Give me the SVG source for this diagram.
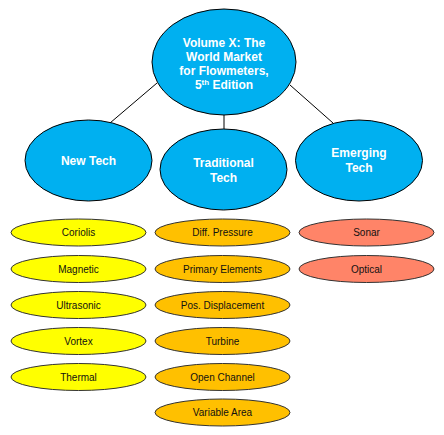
<svg xmlns="http://www.w3.org/2000/svg" width="444" height="435" viewBox="0 0 444 435">
<style>
.blue{fill:#00B0F0;stroke:#000;stroke-width:1}
.y{fill:#FFFF00;stroke:#333;stroke-width:1}
.o{fill:#FFC000;stroke:#333;stroke-width:1}
.s{fill:#FF8468;stroke:#333;stroke-width:1}
.bt{font-family:"Liberation Sans",Arial,sans-serif;font-weight:bold;font-size:12px;fill:#fff;text-anchor:middle}
.st{font-family:"Liberation Sans",Arial,sans-serif;font-size:10px;fill:#111;text-anchor:middle}
.c{stroke:#000;stroke-width:1;fill:none}
</style>
<rect width="444" height="435" fill="#fff"/>
<g id="connectors">
<line class="c" x1="157" y1="83" x2="110" y2="123"/>
<line class="c" x1="224" y1="115" x2="224" y2="129"/>
<line class="c" x1="290" y1="85" x2="333" y2="123"/>
</g>
<g id="root">
<ellipse class="blue" cx="224" cy="62" rx="72" ry="53"/>
<text class="bt" x="224" y="47">Volume X: The</text>
<text class="bt" x="224" y="61">World Market</text>
<text class="bt" x="224" y="75">for Flowmeters,</text>
<text class="bt" x="224" y="89">5<tspan font-size="8" dy="-4">th</tspan><tspan dy="4"> Edition</tspan></text>
</g>
<g id="newtech">
<ellipse class="blue" cx="88.5" cy="160.5" rx="63.5" ry="40.5"/>
<text class="bt" x="88.5" y="164.5">New Tech</text>
</g>
<g id="traditional">
<ellipse class="blue" cx="223.5" cy="169.5" rx="63.5" ry="40.5"/>
<text class="bt" x="223.5" y="167">Traditional</text>
<text class="bt" x="223.5" y="182">Tech</text>
</g>
<g id="emerging">
<ellipse class="blue" cx="359" cy="160.5" rx="63.5" ry="40.5"/>
<text class="bt" x="359" y="157">Emerging</text>
<text class="bt" x="359" y="172">Tech</text>
</g>
<g id="coriolis"><ellipse class="y" cx="78.5" cy="232.5" rx="67.5" ry="13.5"/><text class="st" x="78.5" y="236">Coriolis</text></g>
<g id="magnetic"><ellipse class="y" cx="78.5" cy="269" rx="67.5" ry="13.5"/><text class="st" x="78.5" y="272.5">Magnetic</text></g>
<g id="ultrasonic"><ellipse class="y" cx="78.5" cy="305" rx="67.5" ry="13.5"/><text class="st" x="78.5" y="308.5">Ultrasonic</text></g>
<g id="vortex"><ellipse class="y" cx="78.5" cy="341" rx="67.5" ry="13.5"/><text class="st" x="78.5" y="344.5">Vortex</text></g>
<g id="thermal"><ellipse class="y" cx="78.5" cy="377" rx="67.5" ry="13.5"/><text class="st" x="78.5" y="380.5">Thermal</text></g>
<g id="diffpressure"><ellipse class="o" cx="222.5" cy="232.5" rx="67.5" ry="13.5"/><text class="st" x="222.5" y="236">Diff. Pressure</text></g>
<g id="primary"><ellipse class="o" cx="222.5" cy="269" rx="67.5" ry="13.5"/><text class="st" x="222.5" y="272.5">Primary Elements</text></g>
<g id="posdisp"><ellipse class="o" cx="222.5" cy="305" rx="67.5" ry="13.5"/><text class="st" x="222.5" y="308.5">Pos. Displacement</text></g>
<g id="turbine"><ellipse class="o" cx="222.5" cy="341" rx="67.5" ry="13.5"/><text class="st" x="222.5" y="344.5">Turbine</text></g>
<g id="openchannel"><ellipse class="o" cx="222.5" cy="377" rx="67.5" ry="13.5"/><text class="st" x="222.5" y="380.5">Open Channel</text></g>
<g id="variablearea"><ellipse class="o" cx="222.5" cy="412.5" rx="67.5" ry="13.5"/><text class="st" x="222.5" y="416">Variable Area</text></g>
<g id="sonar"><ellipse class="s" cx="366.5" cy="232.5" rx="67.5" ry="13.5"/><text class="st" x="366.5" y="236">Sonar</text></g>
<g id="optical"><ellipse class="s" cx="366.5" cy="269" rx="67.5" ry="13.5"/><text class="st" x="366.5" y="272.5">Optical</text></g>
</svg>
